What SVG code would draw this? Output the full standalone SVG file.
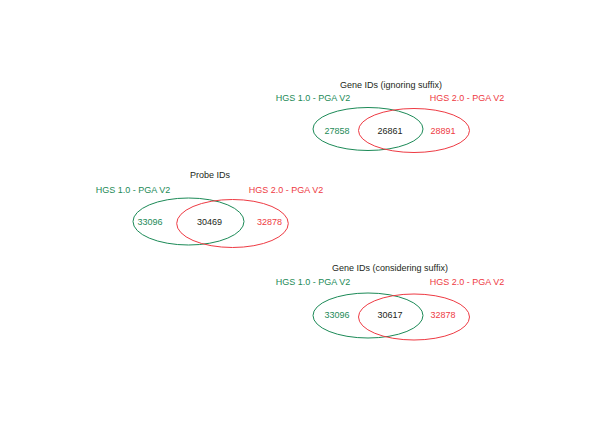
<svg xmlns="http://www.w3.org/2000/svg" width="600" height="424" viewBox="0 0 600 424">
<style>
text{font-family:"Liberation Sans",Arial,sans-serif;font-size:9px;text-anchor:middle}
.t{fill:#231f20}
.g{fill:#1c8a57}
.r{fill:#ee3a43}
.eg{fill:none;stroke:#1c8a57;stroke-width:1}
.er{fill:none;stroke:#ee3a43;stroke-width:1}
</style>
<rect width="600" height="424" fill="#fff"/>
<g id="venn-gene-ignoring">
<text class="t" x="391" y="88">Gene IDs (ignoring suffix)</text>
<text class="g" x="313" y="101">HGS 1.0 - PGA V2</text>
<text class="r" x="467" y="101">HGS 2.0 - PGA V2</text>
<ellipse class="eg" cx="368" cy="129" rx="55" ry="21.5"/>
<ellipse class="er" cx="414" cy="130.5" rx="55.5" ry="22"/>
<text class="g" x="337" y="134">27858</text>
<text class="t" x="390" y="134">26861</text>
<text class="r" x="443" y="134">28891</text>
</g>
<g id="venn-probe">
<text class="t" x="210" y="178">Probe IDs</text>
<text class="g" x="133" y="193">HGS 1.0 - PGA V2</text>
<text class="r" x="286" y="193">HGS 2.0 - PGA V2</text>
<ellipse class="eg" cx="188.5" cy="221.5" rx="55.5" ry="23.5"/>
<ellipse class="er" cx="232.5" cy="223.5" rx="55.8" ry="24"/>
<text class="g" x="150" y="225">33096</text>
<text class="t" x="209.5" y="225">30469</text>
<text class="r" x="269.5" y="225">32878</text>
</g>
<g id="venn-gene-considering">
<text class="t" x="390" y="271">Gene IDs (considering suffix)</text>
<text class="g" x="313" y="285">HGS 1.0 - PGA V2</text>
<text class="r" x="467" y="285">HGS 2.0 - PGA V2</text>
<ellipse class="eg" cx="368" cy="315.5" rx="55" ry="22.5"/>
<ellipse class="er" cx="414" cy="317" rx="55.5" ry="23"/>
<text class="g" x="337" y="318">33096</text>
<text class="t" x="390" y="318">30617</text>
<text class="r" x="443" y="318">32878</text>
</g>
</svg>
